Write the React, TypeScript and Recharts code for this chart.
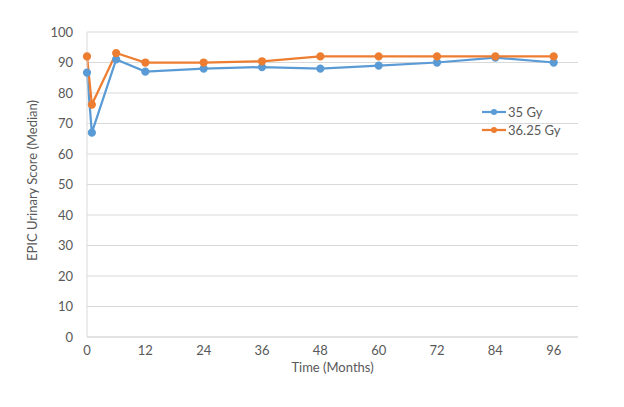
import React from 'react';
import { LineChart, Line, XAxis, YAxis, CartesianGrid } from 'recharts';

const months = [0, 1, 6, 12, 24, 36, 48, 60, 72, 84, 96];
const gy35 = [86.7, 67, 91, 87, 88, 88.5, 88, 89, 90, 91.6, 90];
const gy3625 = [92, 76.2, 93.1, 90, 90, 90.4, 92, 92, 92, 92, 92];
const xTicks = [0, 12, 24, 36, 48, 60, 72, 84, 96];
const yTicks = [0, 10, 20, 30, 40, 50, 60, 70, 80, 90, 100];
const seriesNames = ['35 Gy', '36.25 Gy'];
const colors = ['#5b9bd5', '#ed7d31'];

const data = months.map((m, i) => ({ month: m, a: gy35[i], b: gy3625[i] }));

const FONT = 'Lato, "Open Sans", sans-serif';
const TEXT = '#595959';

const LegendBox = () => (
  <div style={{ position: 'absolute', left: 482, top: 103, fontFamily: FONT, fontSize: 13, color: TEXT }}>
    {seriesNames.map((n, i) => (
      <div key={n} style={{ display: 'flex', alignItems: 'center', height: 18 }}>
        <svg width={24} height={10} style={{ marginRight: 2 }}>
          <line x1={0} y1={5} x2={24} y2={5} stroke={colors[i]} strokeWidth={2.25} />
          <circle cx={12} cy={5} r={3} fill={colors[i]} />
        </svg>
        <span>{n}</span>
      </div>
    ))}
  </div>
);

export default function App() {
  return (
    <div style={{ position: 'absolute', left: 0, top: 0, width: 624, height: 407, background: '#fff' }}>
      <LineChart width={624} height={407} data={data} margin={{ top: 32, right: 46, bottom: 30, left: 42 }}>
        <CartesianGrid vertical={false} stroke="#d9d9d9" />
        <XAxis
          dataKey="month"
          type="number"
          domain={[0, 101]}
          ticks={xTicks}
          tickLine={false}
          axisLine={{ stroke: '#d9d9d9' }}
          tick={{ fill: TEXT, fontSize: 13, fontFamily: FONT }}
          tickMargin={3}
          height={40}
          label={{ value: 'Time (Months)', position: 'insideBottom', offset: 5, fill: TEXT, fontSize: 13, fontFamily: FONT }}
        />
        <YAxis
          domain={[0, 100]}
          ticks={yTicks}
          tickLine={false}
          axisLine={{ stroke: '#d9d9d9' }}
          width={45}
          tick={{ fill: TEXT, fontSize: 13, fontFamily: FONT }}
          tickMargin={8}
          label={{ value: 'EPIC Urinary Score (Median)', angle: -90, position: 'insideLeft', offset: -10, dy: -4, fill: TEXT, fontSize: 13, fontFamily: FONT, style: { textAnchor: 'middle' } }}
        />
        <Line dataKey="a" name={seriesNames[0]} stroke={colors[0]} strokeWidth={2.25} dot={{ r: 3, fill: colors[0], stroke: colors[0] }} isAnimationActive={false} />
        <Line dataKey="b" name={seriesNames[1]} stroke={colors[1]} strokeWidth={2.25} dot={{ r: 3, fill: colors[1], stroke: colors[1] }} isAnimationActive={false} />
      </LineChart>
      <LegendBox />
    </div>
  );
}
